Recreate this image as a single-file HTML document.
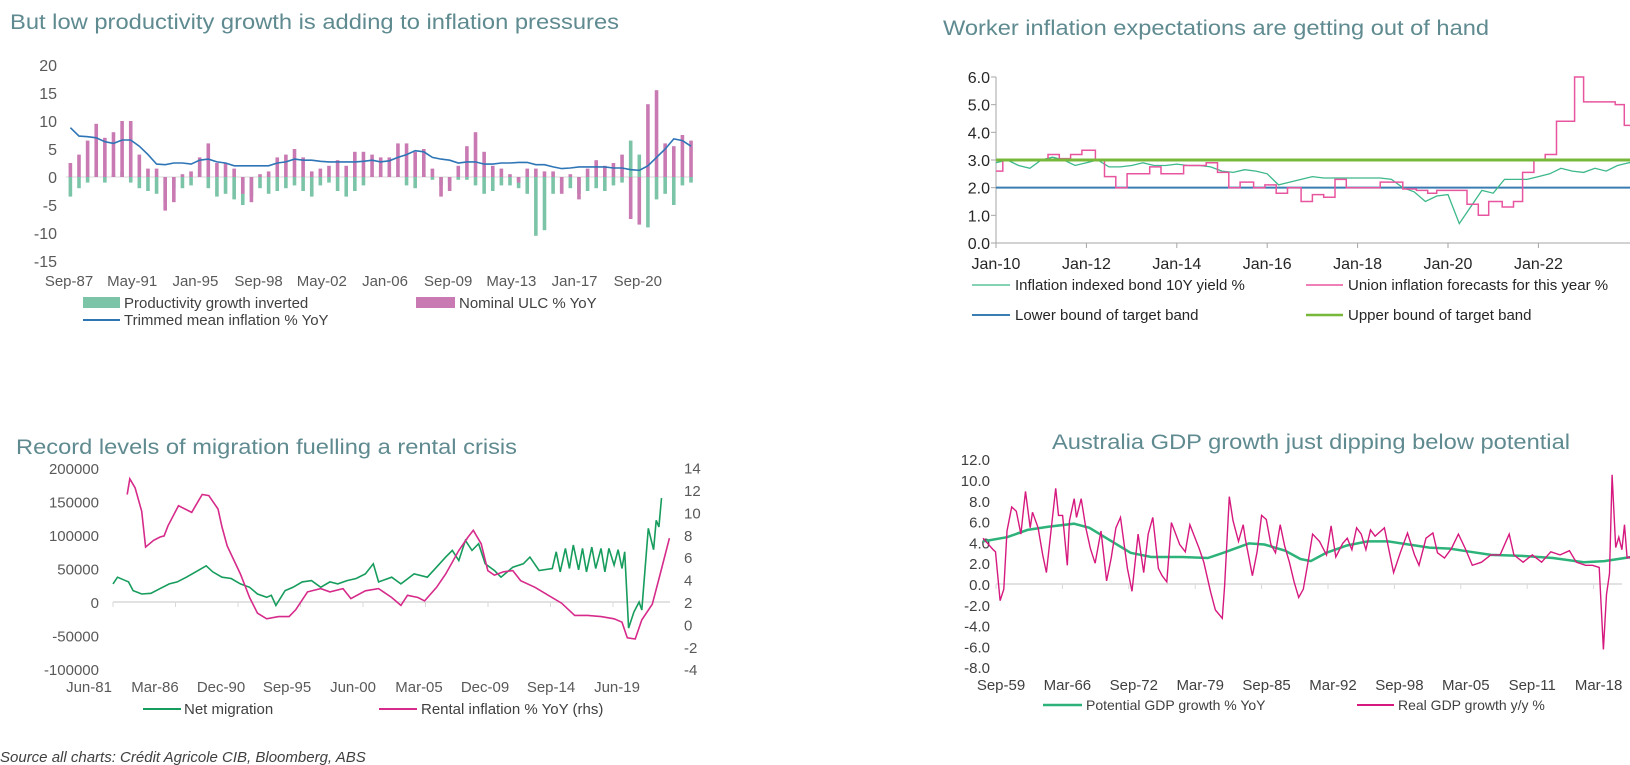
<!DOCTYPE html>
<html><head><meta charset="utf-8"><style>
html,body{margin:0;padding:0;background:#fff;}
svg{display:block;font-family:"Liberation Sans",Arial,sans-serif;}
</style></head><body>
<svg id="root" width="1630" height="765" viewBox="0 0 1630 765" xmlns="http://www.w3.org/2000/svg">
<g>
<text x="10" y="29" font-size="21" fill="#5e8a90" textLength="609" lengthAdjust="spacingAndGlyphs">But low productivity growth is adding to inflation pressures</text>
<g id="c1"></g>
<rect x="83" y="297" width="37" height="11" fill="#7cc4a8"/>
<text x="124" y="308" font-size="15" fill="#404040">Productivity growth inverted</text>
<rect x="416" y="297" width="39" height="11" fill="#c97ab2"/>
<text x="459" y="308" font-size="15" fill="#404040">Nominal ULC % YoY</text>
<line x1="83" y1="320" x2="120" y2="320" stroke="#2e75b6" stroke-width="2"/>
<text x="124" y="325" font-size="15" fill="#404040">Trimmed mean inflation % YoY</text>
</g>
<g>
<text x="943" y="35" font-size="21" fill="#5e8a90" textLength="546" lengthAdjust="spacingAndGlyphs">Worker inflation expectations are getting out of hand</text>
<g id="c2"></g>
<line x1="972" y1="285" x2="1010" y2="285" stroke="#5cc49a" stroke-width="1.5"/>
<text x="1015" y="290" font-size="15" fill="#262626">Inflation indexed bond 10Y yield %</text>
<line x1="1306" y1="285" x2="1343" y2="285" stroke="#e8559f" stroke-width="1.5"/>
<text x="1348" y="290" font-size="15" fill="#262626">Union inflation forecasts for this year %</text>
<line x1="972" y1="315" x2="1010" y2="315" stroke="#3a7db2" stroke-width="2"/>
<text x="1015" y="320" font-size="15" fill="#262626">Lower bound of target band</text>
<line x1="1306" y1="315" x2="1343" y2="315" stroke="#77b83b" stroke-width="2.5"/>
<text x="1348" y="320" font-size="15" fill="#262626">Upper bound of target band</text>
</g>
<g>
<text x="16" y="454" font-size="21" fill="#5e8a90" textLength="501" lengthAdjust="spacingAndGlyphs">Record levels of migration fuelling a rental crisis</text>
<g id="c3"></g>
<line x1="143" y1="709" x2="181" y2="709" stroke="#169c5c" stroke-width="2"/>
<text x="184" y="714" font-size="15" fill="#404040">Net migration</text>
<line x1="379" y1="709" x2="417" y2="709" stroke="#d62b8a" stroke-width="2"/>
<text x="421" y="714" font-size="15" fill="#404040">Rental inflation % YoY (rhs)</text>
</g>
<g>
<text x="1052" y="449" font-size="21" fill="#5e8a90" textLength="518" lengthAdjust="spacingAndGlyphs">Australia GDP growth just dipping below potential</text>
<g id="c4"></g>
<line x1="1043" y1="705" x2="1082" y2="705" stroke="#2db37a" stroke-width="2.5"/>
<text x="1086" y="710" font-size="14" fill="#404040">Potential GDP growth % YoY</text>
<line x1="1357" y1="705" x2="1394" y2="705" stroke="#d6197e" stroke-width="2"/>
<text x="1398" y="710" font-size="14" fill="#404040">Real GDP growth y/y %</text>
</g>
<text x="0" y="762" font-size="15" font-style="italic" fill="#404040">Source all charts: Crédit Agricole CIB, Bloomberg, ABS</text>
</svg>
<script>
// ---------- Chart 1 data (half-yearly from 1987.75) ----------
const c1Start = 1987.75;
const c1Ticks = ["Sep-87","May-91","Jan-95","Sep-98","May-02","Jan-06","Sep-09","May-13","Jan-17","Sep-20"];
const c1YTicks = [20,15,10,5,0,-5,-10,-15];
const ulcValues = [2.5,4,6.5,9.5,7,8,10,10,4,1.5,1.5,-6,-4.5,0.5,1,3.5,6,2.5,2.5,1.5,-3,-4.5,0.5,1,3.5,4,5,3.5,1,1.5,2,3,2,4.5,4.5,4,3.5,3.5,6,6,4.5,5,1.5,-3.5,-2.5,2,5.5,8,4.5,2,1.5,0.5,-1,1.5,1.5,1,1,-3,0.5,-4,1.5,3,2,2.5,4,-7.5,-8.5,13,15.5,6,5.5,7.5,6.5];
const prodValues = [-3.5,-2,-1,1,-1,0.5,1,-1,-2,-2.5,-3,-4.5,-2,-2,-1.5,1.5,-2,-3.5,-3,-4,-5,-3.5,-2,-3,-2.5,-2,-1.5,-2.5,-3.5,-1.5,-1,-2.5,-3.5,-2.5,-1.5,0.3,0.3,0.5,0.3,-1.5,-2,0.5,-0.5,-1.5,-1,-0.5,-0.5,-1.5,-3,-2.5,-1.5,-1.5,-2,-3,-10.5,-9.5,-3,-2.5,-2,-3,-2.5,-2,-2.5,-1.5,-1,6.5,4,-9,-4,-3,-5,-1.5,-1];
const trimValues = [8.8,7.3,7.2,7.0,6.3,6.0,6.6,6.6,5.5,4.0,2.3,2.2,2.5,2.5,2.3,3.0,3.2,2.7,2.5,2.0,2.0,2.0,2.0,2.0,2.5,2.7,3.2,3.0,3.0,2.8,2.7,2.7,2.7,2.7,2.8,3.0,2.7,2.9,3.5,4.0,4.7,4.5,3.5,3.2,3.0,2.5,2.7,2.7,2.3,2.3,2.5,2.5,2.6,2.6,2.2,2.2,1.8,1.5,1.6,1.8,1.8,1.8,1.8,1.6,1.6,1.3,1.2,2.0,3.5,5.0,6.8,6.5,5.5];

// ---------- Chart 2 data ----------
const bondStart = 2010.0;
const bondValues = [2.9,3.0,2.8,2.7,3.0,3.1,3.0,2.8,2.9,3.0,2.75,2.75,2.8,2.9,2.8,2.8,2.85,2.8,2.8,2.75,2.6,2.55,2.65,2.6,2.5,2.1,2.2,2.3,2.4,2.35,2.35,2.35,2.35,2.35,2.35,2.3,2.0,1.85,1.5,1.7,1.75,0.7,1.3,1.9,1.8,2.3,2.3,2.3,2.4,2.5,2.7,2.6,2.55,2.7,2.6,2.8,2.9,2.95];
const unionTimes = [2010.0,2010.15,2011.15,2011.4,2011.65,2011.9,2012.2,2012.4,2012.65,2012.9,2013.4,2013.65,2014.15,2014.65,2014.9,2015.15,2015.4,2015.7,2015.95,2016.2,2016.45,2016.75,2017.0,2017.25,2017.5,2017.75,2018.5,2019.0,2019.3,2019.55,2019.75,2020.42,2020.67,2020.9,2021.2,2021.45,2021.65,2021.9,2022.15,2022.4,2022.8,2023.0,2023.7,2023.9];
const unionValues = [2.6,3.0,3.2,3.05,3.2,3.35,3.0,2.4,2.0,2.5,2.75,2.5,2.8,2.9,2.55,2.0,2.2,2.0,2.1,1.8,2.0,1.5,1.75,1.65,2.3,2.0,2.2,1.95,1.9,1.8,1.9,1.4,1.0,1.5,1.3,1.5,2.55,3.0,3.2,4.4,6.0,5.1,5.0,4.25];
const unionEnd = 2024.1;
const c2XTicks = ["Jan-10","Jan-12","Jan-14","Jan-16","Jan-18","Jan-20","Jan-22"];
const c2YTicks = [0,1,2,3,4,5,6];
const lowerBound = 2.0, upperBound = 3.0;

// ---------- Chart 3 data ----------
const migTimes = [1981.42,1981.76,1982.6,1982.95,1983.6,1984.3,1985.0,1985.7,1986.3,1987.0,1987.7,1988.5,1989.0,1989.7,1990.4,1991.1,1991.8,1992.4,1993.1,1993.45,1993.8,1994.5,1995.1,1995.8,1996.5,1997.2,1997.9,1998.5,1999.2,1999.9,2000.6,2001.2,2001.6,2002.6,2003.3,2004.3,2005.3,2006.0,2006.7,2007.2,2007.7,2008.2,2008.7,2009.2,2009.7,2010.4,2010.9,2011.8,2012.6,2013.1,2013.8,2014.8,2015.1,2015.4,2015.8,2016.1,2016.4,2016.8,2017.1,2017.4,2017.8,2018.1,2018.5,2018.8,2019.1,2019.5,2019.8,2020.1,2020.3,2020.6,2021.0,2021.4,2021.6,2022.1,2022.5,2022.7,2022.9,2023.1];
const migValues = [27000,37000,30000,17000,12000,13000,20000,27000,30000,37000,45000,54000,45000,37000,35000,27000,22000,12000,7000,10000,-5000,17000,22000,30000,32000,22000,30000,27000,32000,35000,42000,57000,30000,37000,27000,42000,37000,52000,67000,77000,62000,92000,77000,87000,57000,47000,37000,52000,57000,67000,47000,50000,75000,45000,80000,50000,85000,48000,80000,45000,82000,50000,80000,45000,80000,55000,78000,50000,75000,-39000,-15000,0,-12000,110000,78000,122000,112000,155000];
const rentTimes = [1982.5,1982.7,1983.1,1983.6,1983.9,1984.5,1985.0,1985.3,1985.6,1986.4,1987.4,1987.7,1988.2,1988.7,1989.4,1989.7,1990.1,1991.1,1991.8,1992.4,1993.1,1994.0,1994.8,1995.3,1996.2,1997.2,1997.9,1998.9,1999.5,2000.6,2001.6,2002.6,2003.3,2003.8,2004.6,2005.1,2006.0,2006.7,2007.7,2008.4,2008.8,2009.4,2009.9,2010.4,2011.1,2011.8,2012.4,2013.5,2014.5,2015.5,2016.5,2017.5,2018.5,2019.5,2020.1,2020.5,2021.1,2021.6,2022.4,2023.0,2023.7];
const rentValues = [11.6,13.0,12.2,10.1,6.9,7.5,7.8,7.9,8.8,10.6,10.0,10.6,11.6,11.5,10.3,8.7,7.0,4.5,2.4,1.0,0.5,0.7,0.7,1.3,2.9,3.2,2.9,3.2,2.3,3.0,3.2,2.4,1.7,2.6,2.4,2.1,3.3,4.5,6.6,7.8,8.4,7.2,4.8,4.4,4.7,4.8,3.9,3.3,2.6,1.9,0.8,0.8,0.7,0.5,0.2,-1.2,-1.3,0.4,1.8,4.5,7.7];
const c3XTicks = ["Jun-81","Mar-86","Dec-90","Sep-95","Jun-00","Mar-05","Dec-09","Sep-14","Jun-19"];
const c3LeftTicks = [200000,150000,100000,50000,0,-50000,-100000];
const c3RightTicks = [14,12,10,8,6,4,2,0,-2,-4];

// ---------- Chart 4 data ----------
const realTimes = [1959.67,1960.66,1960.88,1961.33,1961.69,1962.0,1962.46,1962.9,1963.35,1963.58,1963.8,1964.25,1964.48,1965.02,1965.47,1965.83,1966.19,1966.73,1967.0,1967.4,1967.85,1968.07,1968.52,1968.75,1969.2,1969.65,1970.1,1970.55,1971.13,1971.67,1972.12,1972.57,1973.02,1973.69,1974.14,1974.73,1975.27,1975.71,1976.16,1976.7,1977.06,1977.51,1977.96,1978.77,1979.31,1979.76,1980.66,1981.11,1981.78,1982.23,1982.9,1983.13,1983.58,1983.94,1984.48,1984.93,1985.15,1985.83,1986.28,1986.72,1987.17,1987.62,1988.07,1988.52,1988.97,1989.42,1989.87,1990.32,1990.77,1991.22,1991.67,1992.34,1993.02,1993.47,1993.92,1994.59,1995.04,1995.49,1995.94,1996.39,1996.84,1997.29,1997.74,1998.64,1999.53,2000.21,2000.88,2001.56,2002.0,2002.68,2003.35,2003.8,2004.48,2005.15,2005.83,2006.5,2007.17,2008.07,2008.97,2009.87,2010.76,2011.21,2012.11,2013.0,2013.9,2014.8,2015.7,2016.6,2017.27,2018.17,2018.84,2019.5,2019.9,2020.2,2020.5,2020.75,2021.1,2021.4,2021.7,2021.95,2022.2,2022.45,2022.7,2023.0,2023.3];
const realValues = [4.4,3.3,3.1,-1.6,-0.5,5.1,7.4,7.0,4.8,7.0,8.9,5.4,6.9,5.4,2.8,1.1,4.4,9.2,6.6,6.6,1.8,6.1,8.2,6.4,8.2,5.4,3.4,2.0,5.1,0.3,2.5,5.4,6.4,1.5,-0.7,4.8,1.1,4.8,6.4,1.5,0.8,0.2,5.9,3.8,3.1,5.7,3.4,2.1,-0.8,-2.5,-3.3,-0.2,8.4,6.1,4.1,5.7,4.3,0.8,3.1,6.6,6.2,3.8,3.0,5.7,3.6,2.1,0.2,-1.3,-0.5,2.1,4.8,4.1,2.8,5.6,2.6,3.9,4.4,3.3,5.4,4.8,3.3,5.2,4.6,5.4,1.1,3.1,4.9,2.8,1.8,4.4,4.9,3.0,2.5,3.4,4.8,3.4,1.8,2.1,2.8,2.8,4.8,2.8,2.1,2.8,2.1,3.1,2.8,3.2,2.1,1.8,1.8,1.6,-6.3,-1.0,1.0,10.5,3.5,4.5,3.3,5.7,2.5,2.6,2.1,2.0];
const potTimes = [1959.67,1962,1964,1966,1968.5,1970,1972,1974,1976,1979,1981.5,1983,1985.5,1987,1989,1990.5,1991.5,1993,1995,1997,1999,2001,2003,2005,2007,2009,2012,2015,2018,2020,2023.3];
const potValues = [4.1,4.5,5.2,5.5,5.8,5.4,4.2,3.0,2.6,2.6,2.5,3.0,3.9,3.8,3.2,2.4,2.2,3.0,3.7,4.1,4.1,3.8,3.5,3.4,3.1,2.8,2.7,2.5,2.1,2.2,2.7];
const c4XTicks = ["Sep-59","Mar-66","Sep-72","Mar-79","Sep-85","Mar-92","Sep-98","Mar-05","Sep-11","Mar-18"];
const c4YTicks = [12,10,8,6,4,2,0,-2,-4,-6,-8];

const NS = "http://www.w3.org/2000/svg";
function mk(parent, tag, attrs, txt){
  const e = document.createElementNS(NS, tag);
  for (const k in attrs) e.setAttribute(k, attrs[k]);
  if (txt !== undefined) e.textContent = txt;
  parent.appendChild(e);
  return e;
}
function pathD(xs, ys){
  const n = Math.min(xs.length, ys.length);
  let d = "";
  for (let i=0;i<n;i++){ d += (i?"L":"M")+xs[i].toFixed(1)+","+ys[i].toFixed(1); }
  return d;
}

// ===== Chart 1 =====
(function(){
  const g = document.getElementById("c1");
  const X = t => 69 + (t - 1987.67) * 17.24;
  const Y = v => 177 - v * 5.6;
  c1YTicks.forEach(v=>{
    const t = mk(g,"text",{x:57,y:Y(v)+6,"font-size":16,fill:"#595959","text-anchor":"end"},String(v));
    
    
  });
  c1Ticks.forEach((s,i)=>{
    const t = mk(g,"text",{x:69+i*63.2,y:286,"font-size":15,fill:"#595959","text-anchor":"middle"},s);
    
    
  });
  const axis = mk(g,"line",{x1:66,y1:Y(0),x2:693,y2:Y(0),stroke:"#d9d9d9","stroke-width":1});
  
  
  const w = 3.6;
  prodValues.forEach((v,i)=>{
    const x = X(c1Start + i*0.5);
    const r = mk(g,"rect",{x:x-w/2,y:Math.min(Y(0),Y(v)),width:w,height:Math.abs(Y(v)-Y(0)),fill:"#7cc4a8"});
    
    
  });
  ulcValues.forEach((v,i)=>{
    const x = X(c1Start + i*0.5);
    const r = mk(g,"rect",{x:x-w/2,y:Math.min(Y(0),Y(v)),width:w,height:Math.abs(Y(v)-Y(0)),fill:"#c97ab2"});
    
    
  });
  const xs = trimValues.map((v,i)=>X(c1Start+i*0.5)), ys = trimValues.map(Y);
  const p = mk(g,"path",{d:pathD(xs,ys),fill:"none",stroke:"#2e75b6","stroke-width":1.6});
  
  
})();

// ===== Chart 2 =====
(function(){
  const g = document.getElementById("c2");
  const X = t => 996 + (t - 2010) * 45.2;
  const Y = v => 243 - v * 27.67;
  c2YTicks.forEach(v=>{
    const t = mk(g,"text",{x:990,y:Y(v)+6,"font-size":16,fill:"#262626","text-anchor":"end"},v.toFixed(1));
    
    
    const tk = mk(g,"line",{x1:991,y1:Y(v),x2:996,y2:Y(v),stroke:"#a6a6a6"});
    
    
  });
  c2XTicks.forEach((s,i)=>{
    const x = X(2010 + i*2);
    const t = mk(g,"text",{x:x,y:269,"font-size":16,fill:"#262626","text-anchor":"middle"},s);
    
    
    const tk = mk(g,"line",{x1:x,y1:243,x2:x,y2:248,stroke:"#a6a6a6"});
    
    
  });
  const ya = mk(g,"line",{x1:996,y1:Y(6),x2:996,y2:243,stroke:"#a6a6a6"});
  
  
  const xa = mk(g,"line",{x1:996,y1:243,x2:1630,y2:243,stroke:"#a6a6a6"});
  
  
  const lb = mk(g,"line",{x1:996,y1:Y(lowerBound),x2:1630,y2:Y(lowerBound),stroke:"#3a7db2","stroke-width":2});
  
  
  const xs = bondValues.map((v,i)=>X(bondStart+i*0.25)), ys = bondValues.map(Y);
  const p = mk(g,"path",{d:pathD(xs,ys),fill:"none",stroke:"#3db88a","stroke-width":1.3});
  
  
  let d = "";
  const n = Math.min(unionTimes.length, unionValues.length);
  for (let i=0;i<n;i++){
    const v = unionValues[i];
    const x0 = X(unionTimes[i]), x1 = X(i+1<n?unionTimes[i+1]:unionEnd);
    d += (i?"L":"M")+x0.toFixed(1)+","+Y(v).toFixed(1)+"L"+x1.toFixed(1)+","+Y(v).toFixed(1);
  }
  const u = mk(g,"path",{d:d,fill:"none",stroke:"#e8559f","stroke-width":1.5});
  
  
  const ub = mk(g,"line",{x1:996,y1:Y(upperBound),x2:1630,y2:Y(upperBound),stroke:"#77b83b","stroke-width":3});
  
  
})();

// ===== Chart 3 =====
(function(){
  const g = document.getElementById("c3");
  const X = t => 113 + (t - 1981.42) * 13.16;
  const YL = v => 602 - v / 50000 * 33.5;
  const YR = v => 602 - (v - 2) * 11.2;
  c3LeftTicks.forEach(v=>{
    const t = mk(g,"text",{x:99,y:YL(v)+6,"font-size":15,fill:"#595959","text-anchor":"end"},String(v));
    
    
  });
  c3RightTicks.forEach(v=>{
    const t = mk(g,"text",{x:684,y:YR(v)+6,"font-size":15,fill:"#595959","text-anchor":"start"},String(v));
    
    
  });
  const ax = mk(g,"line",{x1:113,y1:602,x2:670,y2:602,stroke:"#d9d9d9","stroke-width":1.5});
  
  
  c3XTicks.forEach((s,i)=>{
    const tx = 113 + i*62.5;
    const tk = mk(g,"line",{x1:tx,y1:602,x2:tx,y2:607,stroke:"#d9d9d9"});
    
    
    const t = mk(g,"text",{x:89 + i*66,y:692,"font-size":15,fill:"#595959","text-anchor":"middle"},s);
    
    
  });
  const pm = mk(g,"path",{d:pathD(migTimes.map(X),migValues.map(YL)),fill:"none",stroke:"#169c5c","stroke-width":1.6});
  
  
  const pr = mk(g,"path",{d:pathD(rentTimes.map(X),rentValues.map(YR)),fill:"none",stroke:"#d62b8a","stroke-width":1.6});
  
  
})();

// ===== Chart 4 =====
(function(){
  const g = document.getElementById("c4");
  const X = t => 983 + (t - 1959.67) * 10.3;
  const Y = v => 584 - v * 10.4;
  c4YTicks.forEach(v=>{
    const t = mk(g,"text",{x:990,y:Y(v)+6,"font-size":15,fill:"#404040","text-anchor":"end"},v.toFixed(1));
    
    
  });
  const ax = mk(g,"line",{x1:996,y1:584,x2:1622,y2:584,stroke:"#d9d9d9","stroke-width":1.5});
  
  
  c4XTicks.forEach((s,i)=>{
    const tx = 996 + i*66.4;
    const tk = mk(g,"line",{x1:tx,y1:584,x2:tx,y2:589,stroke:"#d9d9d9"});
    
    
    const t = mk(g,"text",{x:1001 + i*66.4,y:690,"font-size":15,fill:"#404040","text-anchor":"middle"},s);
    
    
  });
  const pp = mk(g,"path",{d:pathD(potTimes.map(X),potValues.map(Y)),fill:"none",stroke:"#2db37a","stroke-width":2.5});
  
  
  const pr = mk(g,"path",{d:pathD(realTimes.map(X),realValues.map(Y)),fill:"none",stroke:"#d6197e","stroke-width":1.4});
  
  
})();
</script>
</body></html>
